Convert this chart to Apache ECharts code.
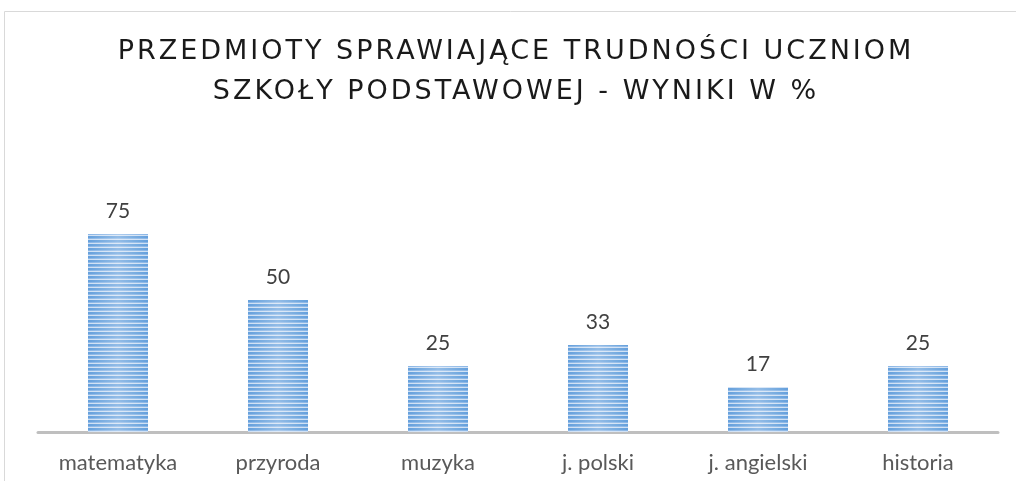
<!DOCTYPE html>
<html>
<head>
<meta charset="utf-8">
<script src="https://cdn.jsdelivr.net/npm/echarts@6/dist/echarts.min.js"></script>
<style>
	html, body { margin: 0; padding: 0; background: #fff; }
	#wrap { position: relative; width: 1016px; height: 481px; }
	#main, #title { position: absolute; left: 0; top: 0; width: 1016px; height: 481px; }
	#title { pointer-events: none; }
</style>
</head>
<body>
<div id="wrap">
	<div id="main"></div>
	<div id="title"></div>
</div>
<script>
	// dane wykresu
	var categories = ["matematyka", "przyroda", "muzyka", "j. polski", "j. angielski", "historia"];
	var values = [75, 50, 25, 33, 17, 25];
	var titleLines = ["PRZEDMIOTY SPRAWIAJĄCE TRUDNOŚCI UCZNIOM", "SZKOŁY PODSTAWOWEJ - WYNIKI W %"];

	// wzór pasków (poziome prążki)
	var stripe = document.createElement('canvas');
	stripe.width = 4;
	stripe.height = 4;
	var ctx = stripe.getContext('2d');
	ctx.fillStyle = '#cfe0f4';
	ctx.fillRect(0, 0, 4, 4);
	ctx.fillStyle = '#65a0dc';
	ctx.fillRect(0, 0, 4, 2);
	ctx.fillStyle = '#8ab6e6';
	ctx.fillRect(0, 2, 4, 1);

	var myChart = echarts.init(document.getElementById('main'));
	var option = {
		animation: false,
		graphic: [{
			type: 'rect',
			shape: { x: 4.5, y: 11.5, width: 1100, height: 600 },
			style: { fill: 'none', stroke: '#d9d9d9', lineWidth: 1 },
			silent: true
		}],
		grid: { left: 38, right: 18, top: 168, bottom: 49 },
		xAxis: {
			type: 'category',
			data: categories,
			axisTick: { show: false },
			axisLine: { lineStyle: { color: '#bfbfbf', width: 3 } },
			axisLabel: { margin: 20, fontFamily: 'Lato', fontSize: 22, color: '#595959' }
		},
		yAxis: {
			type: 'value',
			min: 0,
			max: 100,
			show: false,
			splitLine: { show: false }
		},
		series: [{
			type: 'bar',
			data: values,
			barWidth: 60,
			itemStyle: { color: { image: stripe, repeat: 'repeat' } },
			label: {
				show: true,
				position: 'top',
				distance: 12,
				fontFamily: 'Lato',
				fontSize: 21,
				color: '#404040'
			}
		}, {
			type: 'bar',
			data: values,
			barWidth: 60,
			barGap: '-100%',
			silent: true,
			itemStyle: {
				color: {
					type: 'linear', x: 0, y: 0, x2: 1, y2: 0,
					colorStops: [
						{ offset: 0, color: 'rgba(255,255,255,0)' },
						{ offset: 0.5, color: 'rgba(255,255,255,0.3)' },
						{ offset: 1, color: 'rgba(255,255,255,0)' }
					]
				}
			}
		}]
	};
	myChart.setOption(option);

	// tytuł w osobnej instancji, żeby dodać odstępy między literami
	var titleChart = echarts.init(document.getElementById('title'));
	titleChart.setOption({
		animation: false,
		graphic: titleLines.map(function (line, i) {
			return {
				type: 'text',
				x: 516,
				y: 52 + i * 40,
				silent: true,
				style: {
					text: line,
					align: 'center',
					verticalAlign: 'middle',
					fontFamily: 'DejaVu Sans',
					fontSize: 27,
					fill: '#1a1a1a'
				}
			};
		})
	});
	var zr = titleChart.getZr();
	zr.refreshImmediately();
	var tcanvas = document.querySelector('#title canvas');
	if (tcanvas) {
		tcanvas.getContext('2d').letterSpacing = '3px';
		zr.painter.refresh(true);
	}
</script>
</body>
</html>
